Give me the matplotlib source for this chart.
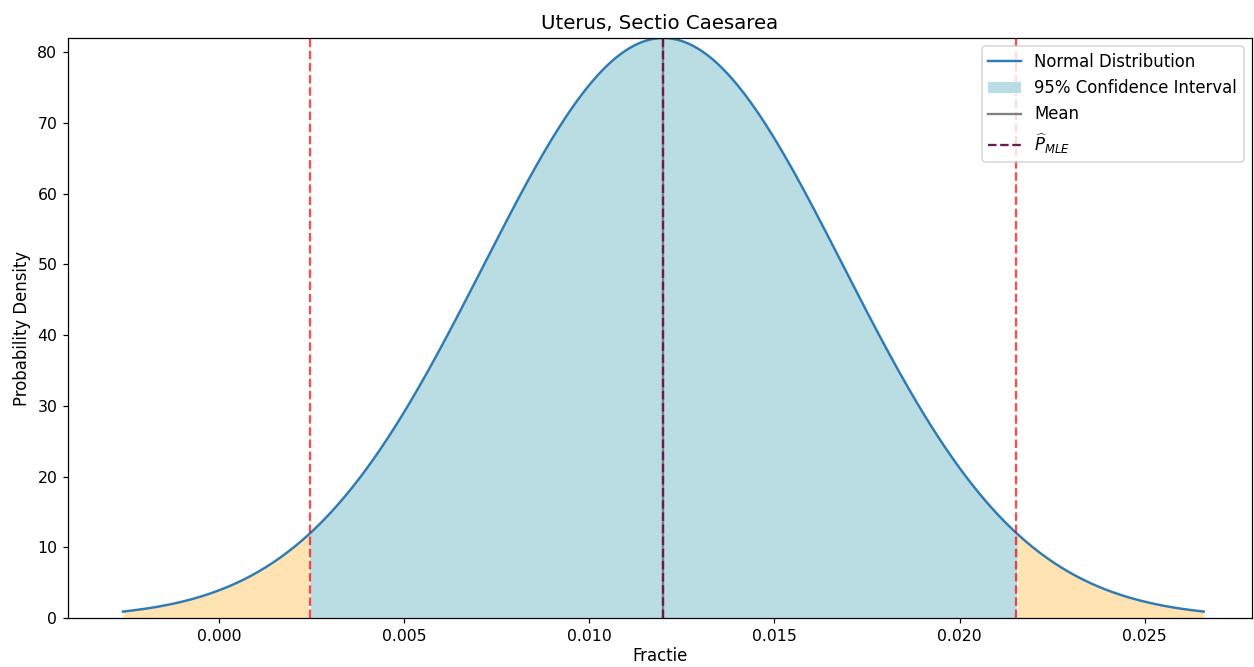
import numpy as np
import matplotlib
matplotlib.use("Agg")
import matplotlib.pyplot as plt

# Estimated parameters of the fraction
mean = 0.01200
std = 0.004865
p_mle = 0.01200
z = 1.96
span = 3.0

title = "Uterus, Sectio Caesarea"
xlabel = "Fractie"
ylabel = "Probability Density"
xticks = [0.0, 0.005, 0.01, 0.015, 0.02, 0.025]

x = np.linspace(mean - span * std, mean + span * std, 600)
pdf = np.exp(-0.5 * ((x - mean) / std) ** 2) / (std * np.sqrt(2 * np.pi))
lo, hi = mean - z * std, mean + z * std

fig = plt.figure(figsize=(1254 / 110, 667 / 110), dpi=110)
ax = fig.add_axes([68 / 1254, 1 - 618 / 667, (1252 - 68) / 1254, (618 - 38) / 667])

ax.plot(x, pdf, color="#2f7bb5", lw=1.6, label="Normal Distribution")
inside = (x >= lo) & (x <= hi)
ax.fill_between(x, pdf, where=inside, color="#b9dde3", label="95% Confidence Interval",
                interpolate=True, lw=0)
ax.fill_between(x, pdf, where=x <= lo, color="orange", alpha=0.3, interpolate=True, lw=0)
ax.fill_between(x, pdf, where=x >= hi, color="orange", alpha=0.3, interpolate=True, lw=0)
ax.axvline(lo, color="red", ls="--", alpha=0.7, lw=1.5)
ax.axvline(hi, color="red", ls="--", alpha=0.7, lw=1.5)
ax.axvline(mean, color="grey", lw=1.5, label="Mean")
ax.axvline(p_mle, color="#6a1a4c", ls="--", lw=1.5, label=r"$\widehat{P}_{MLE}$")

ax.set_xlim(-0.00408, 0.0279)
ax.set_ylim(0, pdf.max())
ax.set_xticks(xticks)
ax.set_title(title, fontsize=12.9)
ax.set_xlabel(xlabel, fontsize=10.8, labelpad=2)
ax.set_ylabel(ylabel, fontsize=10.8)
ax.tick_params(labelsize=10.3)
ax.legend(loc="upper right", fontsize=10.8)

fig.savefig("out.png", dpi=110)
